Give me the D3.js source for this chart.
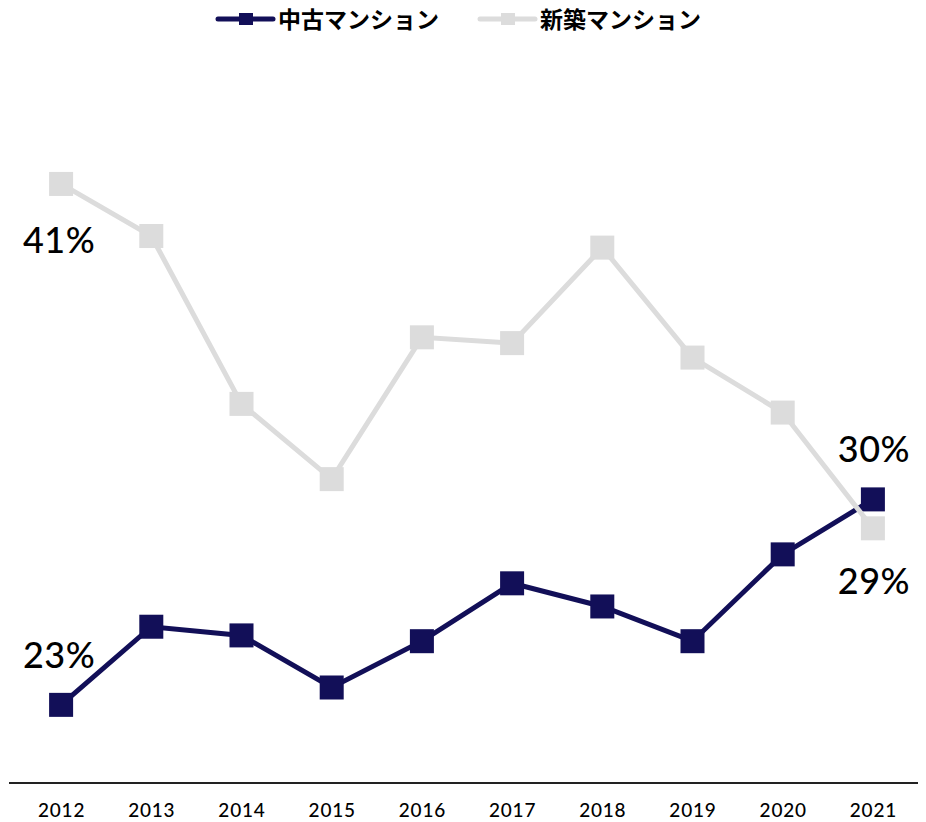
<!DOCTYPE html>
<html>
<head>
<meta charset="utf-8">
<script src="https://cdn.jsdelivr.net/npm/d3@7"></script>
<style>
  body { margin: 0; background: #fff; }
  text { font-family: Lato, "Noto Sans CJK JP", sans-serif; }
</style>
</head>
<body>
<div id="chart"></div>
<script>
// data
const years = ["2012","2013","2014","2015","2016","2017","2018","2019","2020","2021"];
const usedVals = [23, 25.7, 25.4, 23.6, 25.2, 27.2, 26.4, 25.2, 28.2, 30.1];
const newVals = [41, 39.2, 33.4, 30.8, 35.7, 35.5, 38.8, 35.0, 33.1, 29.1];
const seriesNames = ["中古マンション", "新築マンション"];
const seriesColors = ["#120f58", "#dcdcdc"];

const width = 926, height = 822;

const svg = d3.select("#chart").append("svg")
    .attr("width", width)
    .attr("height", height);

let x = d3.scalePoint()
    .domain(years)
    .range([16, 918])
    .padding(0.5);

let y = d3.scaleLinear()
    .domain([20.3, 42])
    .range([783, 155]);

// axis
let xAxis = svg.append("g")
    .attr("transform", "translate(0,783)")
    .call(d3.axisBottom(x).tickSize(0).tickPadding(21));
xAxis.select(".domain").remove();
xAxis.append("line")
    .attr("x1", 9).attr("x2", 918)
    .attr("stroke", "#222").attr("stroke-width", 2);
xAxis.selectAll(".tick text")
    .attr("font-size", 19)
    .attr("font-family", "Lato, sans-serif")
    .attr("font-weight", 500)
    .attr("letter-spacing", 0.8)
    .attr("fill", "#000");

let line = d3.line()
    .x(function(d, i) { return x(years[i]); })
    .y(function(d) { return y(d); });

// draw used first, new on top
[usedVals, newVals].forEach(function(vals, s) {
  svg.append("path")
      .datum(vals)
      .attr("d", line)
      .attr("fill", "none")
      .attr("stroke", seriesColors[s])
      .attr("stroke-width", 5);

  svg.selectAll(".pt" + s)
      .data(vals)
      .enter()
      .append("rect")
      .attr("class", "pt" + s)
      .attr("x", function(d, i) { return x(years[i]) - 12; })
      .attr("y", function(d) { return y(d) - 12; })
      .attr("width", 24)
      .attr("height", 24)
      .attr("fill", seriesColors[s]);
});

// value labels
let labels = [
  {v: newVals[0], i: 0, text: "41%", dy: 55},
  {v: usedVals[0], i: 0, text: "23%", dy: -51},
  {v: usedVals[9], i: 9, text: "30%", dy: -51},
  {v: newVals[9], i: 9, text: "29%", dy: 52}
];
svg.selectAll(".vlabel")
    .data(labels)
    .enter()
    .append("text")
    .attr("class", "vlabel")
    .attr("x", function(d) { return x(years[d.i]) + (d.i === 0 ? -2 : 1); })
    .attr("y", function(d) { return y(d.v) + d.dy; })
    .attr("text-anchor", "middle")
    .attr("dominant-baseline", "central")
    .attr("font-size", 36)
    .attr("font-weight", 500)
    .attr("letter-spacing", 0.5)
    .attr("fill", "#000")
    .text(function(d) { return d.text; });

// legend
let legendX = [218, 480];
seriesNames.forEach(function(name, s) {
  let g = svg.append("g").attr("transform", "translate(" + legendX[s] + ",19)");
  g.append("line")
      .attr("x1", 0).attr("x2", 55)
      .attr("stroke", seriesColors[s])
      .attr("stroke-width", 5)
      .attr("stroke-linecap", "round");
  g.append("rect")
      .attr("x", 21).attr("y", -6)
      .attr("width", 14).attr("height", 12)
      .attr("fill", seriesColors[s]);
  g.append("text")
      .attr("x", 60)
      .attr("dominant-baseline", "central")
      .attr("font-size", 23)
      .attr("font-weight", 700)
      .attr("font-family", "'Noto Sans CJK JP', sans-serif")
      .attr("fill", "#000")
      .text(name);
});
</script>
</body>
</html>
